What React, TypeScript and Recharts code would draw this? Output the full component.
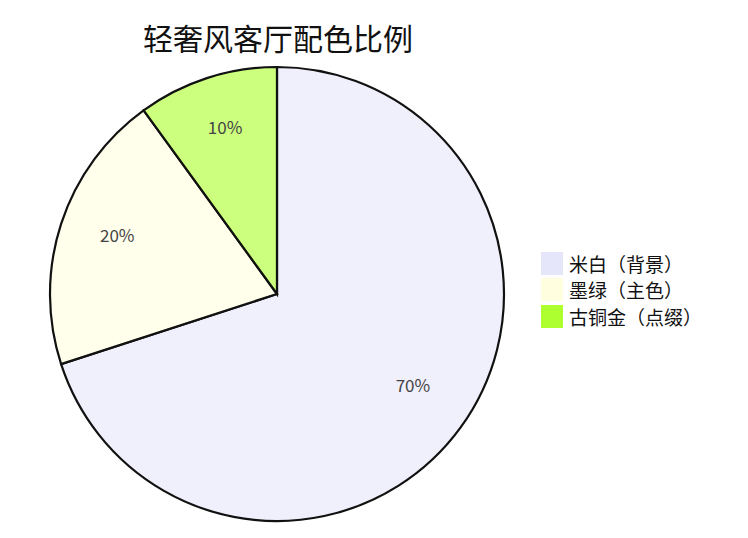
import { PieChart, Pie, Cell } from 'recharts'

const categories = ['米白（背景）', '墨绿（主色）', '古铜金（点缀）']
const shares = [70, 20, 10]
const colors = ['#E6E6FA', '#FFFFE0', '#ADFF2F']

const data = categories.map((name, i) => ({ name, value: shares[i] }))

const FONT = '"Noto Sans CJK SC", "Noto Sans", sans-serif'

const RADIAN = Math.PI / 180

const renderLabel = (props: any) => {
  const { cx, cy, midAngle, outerRadius, percent } = props
  const r = outerRadius * 0.74
  const x = cx + r * Math.cos(-midAngle * RADIAN)
  const y = cy + r * Math.sin(-midAngle * RADIAN) - 8
  return (
    <text x={x} y={y} fill="#444" fontSize={17} fontFamily={FONT}
      textAnchor="middle" dominantBaseline="central">
      {`${Math.round(percent * 100)}%`}
    </text>
  )
}

export default function App() {
  return (
    <div style={{ position: 'absolute', left: 0, top: 0, width: 748, height: 538, background: '#fff' }}>
      <div style={{
        position: 'absolute', top: 17, left: 0, width: 556, textAlign: 'center',
        fontFamily: FONT, fontSize: 30, lineHeight: '40px', color: '#111',
      }}>
        轻奢风客厅配色比例
      </div>
      <PieChart width={748} height={538} margin={{ top: 0, right: 0, bottom: 0, left: 0 }}>
        <Pie
          data={data}
          dataKey="value"
          nameKey="name"
          cx={277}
          cy={294}
          outerRadius={227}
          startAngle={90}
          endAngle={-270}
          stroke="#111"
          strokeWidth={2.2}
          label={renderLabel}
          labelLine={false}
          isAnimationActive={false}
        >
          {data.map((d, i) => (
            <Cell key={d.name} fill={colors[i]} fillOpacity={0.62} />
          ))}
        </Pie>
      </PieChart>
      <div style={{ position: 'absolute', left: 541, top: 250, fontFamily: FONT, fontSize: 19, color: '#111' }}>
        {categories.map((c, i) => (
          <div key={c} style={{ display: 'flex', alignItems: 'center', height: 26.5 }}>
            <span style={{ width: 22, height: 23, background: colors[i], marginRight: 6, display: 'inline-block' }} />
            <span>{c}</span>
          </div>
        ))}
      </div>
    </div>
  )
}
